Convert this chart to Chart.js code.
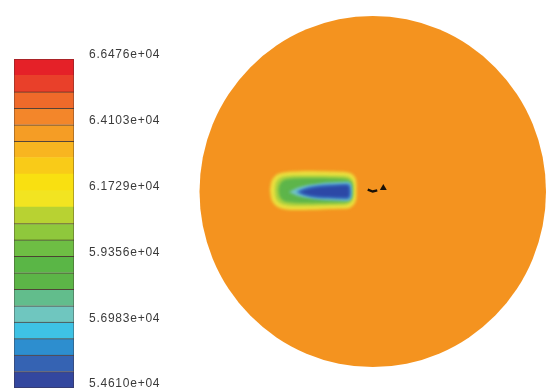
<!DOCTYPE html>
<html>
<head>
<meta charset="utf-8">
<script src="https://cdn.jsdelivr.net/npm/chart.js@4.4.1/dist/chart.umd.min.js"></script>
<style>
  html, body { margin: 0; padding: 0; background: #ffffff; width: 550px; height: 389px; overflow: hidden; }
  #barBox { position: absolute; left: 0; top: 0; width: 180px; height: 389px; }
  #domBox { position: absolute; left: 180px; top: 0; width: 370px; height: 389px; }
  canvas { display: block; }
</style>
</head>
<body>
<div id="barBox"><canvas id="legendBar" width="180" height="389"></canvas></div>
<div id="domBox"><canvas id="field" width="370" height="389"></canvas></div>
<script>
// Contour levels of the pressure field (20 bands, bottom to top)
const levels = [
  54610, 55203.3, 55796.6, 56389.9, 56983.2, 57576.5, 58169.8, 58763.1,
  59356.4, 59949.7, 60543, 61136.3, 61729.6, 62322.9, 62916.2, 63509.5,
  64102.8, 64696.1, 65289.4, 65882.7, 66476
];
// Labelled levels on the colour bar
const tickValues = [54610, 56983.2, 59356.4, 61729.6, 64102.8, 66476];
const tickLabels = ['5.4610e+04', '5.6983e+04', '5.9356e+04', '6.1729e+04', '6.4103e+04', '6.6476e+04'];

// Section of the pipe: radius in mm
const domainRadius = 100;
// Contour outlines inside the section (x, y in mm), outermost first
const contourHalo = [[-59.3,0.9],[-58.2,6.3],[-55.1,9.8],[-50.2,11.0],[-42.1,11.6],[-30.6,11.6],[-19.1,11.3],[-13.0,10.5],[-9.9,7.4],[-9.4,0.9],[-9.9,-5.7],[-13.0,-9.2],[-19.1,-9.9],[-30.6,-10.2],[-42.1,-10.5],[-50.2,-10.2],[-55.1,-8.7],[-58.2,-5.1]];
const contourLime = [[-56.5,0.9],[-55.9,4.8],[-53.6,7.7],[-49.0,8.8],[-42.1,9.1],[-30.6,9.1],[-19.1,8.8],[-13.9,8.3],[-11.6,6.0],[-11.0,0.9],[-11.6,-4.3],[-13.9,-7.1],[-19.1,-7.7],[-30.6,-8.0],[-42.1,-8.3],[-49.0,-8.0],[-53.6,-6.6],[-55.9,-3.7]];
const contourGreen = [[-54.5,0.9],[-53.6,4.3],[-51.3,6.6],[-46.7,7.4],[-39.2,7.7],[-30.6,7.7],[-19.1,7.4],[-14.5,6.8],[-12.2,4.8],[-11.9,0.9],[-12.2,-3.1],[-14.5,-5.7],[-19.1,-6.3],[-30.6,-6.6],[-39.2,-6.6],[-46.7,-6.3],[-51.3,-5.4],[-53.6,-3.1]];
const contourCyan = [[-48.5,-0.3],[-42.1,2.6],[-30.6,4.6],[-19.1,5.4],[-13.6,5.4],[-12.2,3.7],[-12.2,-3.7],[-13.6,-5.2],[-19.1,-5.2],[-30.6,-4.6],[-42.1,-2.9]];
const contourBlue = [[-44.5,-0.3],[-38.5,2.3],[-30.6,3.7],[-19.1,4.3],[-13.9,4.3],[-12.9,2.9],[-12.9,-3.1],[-13.9,-4.3],[-19.1,-4.3],[-30.6,-3.9],[-38.5,-2.6]];
const contourDeep = [[-42.7,-0.3],[-36.3,1.7],[-27.7,2.8],[-19.1,3.4],[-14.5,3.4],[-13.6,2.3],[-13.6,-2.6],[-14.5,-3.4],[-19.1,-3.4],[-27.7,-3.1],[-36.3,-2.3]];
// Probe marker near the centre
const probeStem = [[-2.9,1.1],[0.0,0.0],[2.6,0.6]];
const probeHead = [[6.1,2.0]];

// Band colours, bottom to top
const bandColors = [
  '#33479f', '#3563b3', '#2d8ecf', '#3ec2e4', '#6fc6bf', '#62bd8c',
  '#5cb547', '#5ab646', '#6ebe44', '#8fc83c', '#b8d232', '#f2e421',
  '#f9e011', '#f9cb18', '#f8b520', '#f59d25', '#f3862a', '#ef6a2a',
  '#e9402a', '#e52128'
];
// Bands whose upper edge shows a separating line
const bandEdges = [1,1,1,1,1,1,1,1,1,1,0,0,0,0,1,1,1,1,0,0];

// ---- colour bar ----
const bandSets = bandColors.map((c, i) => ({
  data: [[levels[i], levels[i + 1]]],
  backgroundColor: c,
  borderColor: 'rgba(45,25,15,0.8)',
  borderWidth: { top: bandEdges[i] ? 1 : 0, left: 0, right: 0, bottom: 0 },
  borderSkipped: false,
  barPercentage: 1,
  categoryPercentage: 1
}));

const textSpacing = {
  id: 'textSpacing',
  beforeDraw(chart) { chart.ctx.letterSpacing = '0.75px'; }
};
const barOutline = {
  id: 'barOutline',
  afterDatasetsDraw(chart) {
    const a = chart.chartArea, ctx = chart.ctx;
    ctx.save();
    ctx.strokeStyle = 'rgba(60,40,40,0.35)';
    ctx.lineWidth = 1;
    ctx.strokeRect(a.left + 0.5, a.top + 0.5, a.right - a.left - 1, a.bottom - a.top - 1);
    ctx.restore();
  }
};

new Chart(document.getElementById('legendBar'), {
  type: 'bar',
  data: { labels: [''], datasets: bandSets },
  options: {
    responsive: false,
    animation: false,
    layout: { padding: { left: 14, top: 59, bottom: 1, right: 0 } },
    plugins: { legend: { display: false }, tooltip: { enabled: false } },
    scales: {
      x: { stacked: true, display: false },
      y: {
        position: 'right',
        min: levels[0],
        max: levels[levels.length - 1],
        grid: { display: false },
        border: { display: false },
        afterFit(s) { s.width = 106; s.paddingTop = 0; s.paddingBottom = 0; },
        afterBuildTicks(s) { s.ticks = tickValues.map(v => ({ value: v })); },
        ticks: {
          padding: 7,
          labelOffset: -4,
          color: '#3a3a3a',
          font: { family: '"Liberation Sans", Arial, sans-serif', size: 12 },
          callback: (v, i) => tickLabels[i]
        }
      }
    }
  },
  plugins: [textSpacing, barOutline]
});

// ---- pipe section ----
const toPoints = arr => arr.concat([arr[0]]).map(p => ({ x: p[0], y: p[1] }));
const contourSet = (pts, color) => ({
  type: 'scatter',
  data: toPoints(pts),
  showLine: true,
  fill: 'shape',
  backgroundColor: color,
  borderColor: color,
  borderWidth: 0,
  pointRadius: 0,
  tension: 0.35
});

const section = {
  id: 'section',
  beforeDatasetsDraw(chart) {
    const xs = chart.scales.x, ys = chart.scales.y, ctx = chart.ctx;
    const cx = xs.getPixelForValue(0), cy = ys.getPixelForValue(0);
    const rx = xs.getPixelForValue(domainRadius) - cx;
    const ry = cy - ys.getPixelForValue(domainRadius);
    ctx.save();
    ctx.fillStyle = '#f4931f';
    ctx.beginPath();
    ctx.ellipse(cx, cy, rx, ry, 0, 0, Math.PI * 2);
    ctx.fill();
    ctx.restore();
    // contour bands are smeared by the interpolation
    ctx.filter = 'blur(1.4px)';
  },
  beforeDatasetDraw(chart, args) {
    // the probe marker is only slightly softened
    if (args.index < 2) chart.ctx.filter = 'blur(0.4px)';
  },
  afterDatasetsDraw(chart) { chart.ctx.filter = 'none'; }
};

new Chart(document.getElementById('field'), {
  type: 'scatter',
  data: {
    datasets: [
      {
        data: probeHead.map(p => ({ x: p[0], y: p[1] })),
        pointStyle: 'triangle', pointRadius: 4,
        backgroundColor: '#1a1208', borderColor: '#1a1208', borderWidth: 0
      },
      {
        data: probeStem.map(p => ({ x: p[0], y: p[1] })),
        showLine: true, pointRadius: 0,
        borderColor: '#1a1208', borderWidth: 2.4
      },
      contourSet(contourDeep, '#2c48a6'),
      contourSet(contourBlue, '#3b7fc8'),
      contourSet(contourCyan, '#72c4c8'),
      contourSet(contourGreen, '#5db54a'),
      contourSet(contourLime, '#a9d13f'),
      contourSet(contourHalo, '#ebdf3e')
    ]
  },
  options: {
    responsive: false,
    animation: false,
    layout: { padding: { left: 19.5, right: 3.3, top: 16, bottom: 22 } },
    plugins: { legend: { display: false }, tooltip: { enabled: false } },
    scales: {
      x: { type: 'linear', min: -domainRadius, max: domainRadius, display: false },
      y: { type: 'linear', min: -domainRadius, max: domainRadius, display: false }
    }
  },
  plugins: [section]
});
</script>
</body>
</html>
